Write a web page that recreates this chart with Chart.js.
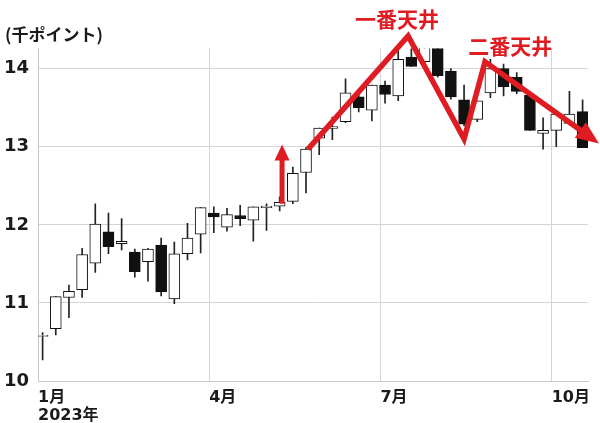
<!DOCTYPE html>
<html>
<head>
<meta charset="utf-8">
<script src="https://cdn.jsdelivr.net/npm/chart.js@4.4.1/dist/chart.umd.min.js"></script>
<style>
html, body { margin: 0; padding: 0; background: #fff; }
#wrap { width: 600px; height: 423px; }
</style>
</head>
<body>
<div id="wrap"><canvas id="myChart"></canvas></div>
<script>
// weekly candles, Jan - Oct 2023 (thousand points)
const openV  = [10.57,10.67,11.07,11.17,11.51,11.91,11.76,11.65,11.53,11.74,11.05,11.63,11.88,12.15,11.97,12.12,12.06,12.22,12.24,12.30,12.67,13.11,13.235,13.32,13.64,13.47,13.79,13.65,14.15,14.09,14.35,13.97,13.60,13.35,13.69,14.00,13.89,13.66,13.17,13.21,13.30,13.45];
const highV  = [10.62,11.08,11.23,11.70,12.27,12.15,12.08,11.69,11.70,11.83,11.78,12.02,12.22,12.23,12.21,12.25,12.23,12.27,12.36,12.74,12.99,13.24,13.38,13.87,13.67,13.79,13.84,14.23,14.29,14.36,14.37,14.00,13.79,13.59,14.12,14.06,13.95,13.66,13.37,13.42,13.71,13.60];
const lowV   = [10.27,10.59,10.81,11.07,11.39,11.63,11.68,11.33,11.28,11.09,10.99,11.55,11.64,11.90,11.92,11.99,11.79,11.93,12.18,12.27,12.41,12.90,13.09,13.31,13.445,13.33,13.56,13.59,14.03,14.08,13.89,13.61,13.27,13.32,13.63,13.65,13.68,13.21,12.97,13.00,13.29,12.99];
const closeV = [10.585,11.08,11.15,11.62,12.01,11.72,11.79,11.40,11.69,11.14,11.63,11.83,12.22,12.10,12.13,12.08,12.23,12.24,12.29,12.66,12.97,13.24,13.26,13.69,13.50,13.79,13.67,14.12,14.03,14.32,13.91,13.64,13.29,13.59,14.00,13.77,13.71,13.21,13.21,13.42,13.42,12.99];

// x axis in weeks from 1 Jan
const firstWeek = 0.35;
const monthTicks = [0, 13, 26, 39];
const monthLabels = [['1月', '2023年'], '4月', '7月', '10月'];
const yTicks = [10, 11, 12, 13, 14];

// red annotation lines (week, value)
const topLineX = [20.5, 28.1, 32.35, 33.94, 41.3];
const topLineY = [12.97, 14.42, 13.10, 14.09, 13.20];
const upArrowX = [18.53, 18.53];
const upArrowY = [12.27, 12.85];
const peakLabels = ['一番天井', '二番天井'];
const peakLabelX = [27.25, 35.85];
const peakLabelY = [14.64, 14.29];

const red = 'rgb(222, 28, 34)';

let bodies = [], wicks = [], bodyColors = [];
for (let i = 0; i < openV.length; i++) {
    let x = firstWeek + i;
    bodies.push({ x: x, y: [openV[i], closeV[i]] });
    wicks.push({ x: x, y: [lowV[i], highV[i]] });
    bodyColors.push(closeV[i] >= openV[i] ? '#ffffff' : '#111111');
}

const annotate = {
    id: 'annotate',
    afterDatasetsDraw(chart) {
        const ctx = chart.ctx;
        const xs = chart.scales.x, ys = chart.scales.y;
        ctx.save();
        ctx.fillStyle = red;
        chart.data.datasets.forEach((ds, di) => {
            if (!ds.arrowHead) return;
            const pts = chart.getDatasetMeta(di).data;
            const a = pts[pts.length - 2], b = pts[pts.length - 1];
            const ang = Math.atan2(b.y - a.y, b.x - a.x);
            const c = Math.cos(ang), s = Math.sin(ang);
            const L = ds.arrowHead[0], W = ds.arrowHead[1];
            const bx = b.x - 2 * c, by = b.y - 2 * s;
            ctx.beginPath();
            ctx.moveTo(b.x + L * c, b.y + L * s);
            ctx.lineTo(bx - W * s, by + W * c);
            ctx.lineTo(bx + W * s, by - W * c);
            ctx.closePath();
            ctx.fill();
        });
        ctx.font = 'bold 21px "Noto Sans CJK JP"';
        ctx.textAlign = 'center';
        ctx.textBaseline = 'middle';
        peakLabels.forEach((t, i) => {
            ctx.fillText(t, xs.getPixelForValue(peakLabelX[i]), ys.getPixelForValue(peakLabelY[i]));
        });
        ctx.restore();
    }
};

const data = {
    datasets: [
        {
            type: 'line',
            data: topLineX.map((x, i) => ({ x: x, y: topLineY[i] })),
            borderColor: red,
            borderWidth: 5.5,
            pointRadius: 0,
            borderJoinStyle: 'miter',
            tension: 0,
            clip: false,
            order: 0,
            arrowHead: [21, 9.5]
        },
        {
            type: 'line',
            data: upArrowX.map((x, i) => ({ x: x, y: upArrowY[i] })),
            borderColor: red,
            borderWidth: 5,
            pointRadius: 0,
            clip: false,
            order: 0,
            arrowHead: [14, 7.5]
        },
        {
            data: bodies,
            backgroundColor: bodyColors,
            borderColor: '#111',
            borderWidth: 1,
            borderSkipped: false,
            barThickness: 11,
            grouped: false,
            order: 1
        },
        {
            data: wicks,
            backgroundColor: '#222',
            borderWidth: 0,
            barThickness: 1,
            grouped: false,
            order: 2
        }
    ]
};

const config = {
    type: 'bar',
    data: data,
    options: {
        responsive: true,
        maintainAspectRatio: false,
        animation: false,
        layout: { padding: { left: 5, right: 12, top: 0, bottom: 0 } },
        plugins: {
            legend: { display: false },
            tooltip: { enabled: false },
            title: {
                display: true,
                text: '(千ポイント)',
                align: 'start',
                color: '#1a1a1a',
                font: { family: '"Noto Sans CJK JP"', size: 17, weight: 'bold', lineHeight: 1.2 },
                padding: { top: 24, bottom: 4 }
            }
        },
        scales: {
            x: {
                type: 'linear',
                min: 0,
                max: 41.76,
                offset: false,
                afterBuildTicks: axis => { axis.ticks = monthTicks.map(v => ({ value: v })); },
                afterFit: axis => { axis.height = 42; },
                ticks: {
                    autoSkip: false,
                    maxRotation: 0,
                    align: 'start',
                    padding: 8,
                    color: '#1a1a1a',
                    font: { family: '"DejaVu Sans", "Noto Sans CJK JP"', size: 16, weight: 'bold', lineHeight: 1.1 },
                    callback: (v, i) => monthLabels[i]
                },
                grid: { color: '#d4d4d4', drawTicks: false, offset: false },
                border: { color: '#c8c8c8' }
            },
            y: {
                min: 10,
                max: 14.26,
                afterBuildTicks: axis => { axis.ticks = yTicks.map(v => ({ value: v })); },
                afterFit: axis => { axis.width = 33; },
                ticks: {
                    padding: 9,
                    color: '#1a1a1a',
                    font: { family: '"DejaVu Sans"', size: 18, weight: 'bold' }
                },
                grid: { color: '#d4d4d4', drawTicks: false },
                border: { color: '#c8c8c8' }
            }
        }
    },
    plugins: [annotate]
};

const myChart = new Chart(document.getElementById('myChart'), config);
</script>
</body>
</html>
